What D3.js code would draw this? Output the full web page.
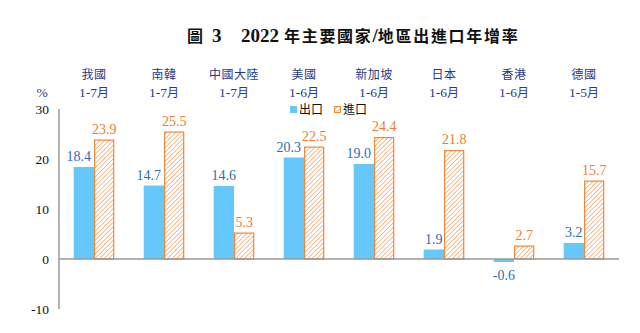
<!DOCTYPE html>
<html><head><meta charset="utf-8">
<script src="https://cdn.jsdelivr.net/npm/d3@7"></script>
<style>body{margin:0;background:#fff;}svg{display:block;}</style>
</head><body>
<svg id="c" width="640" height="333"></svg>
<script>
const categories = ["我國","南韓","中國大陸","美國","新加坡","日本","香港","德國"];
const periods = ["1-7月","1-7月","1-7月","1-6月","1-6月","1-6月","1-6月","1-5月"];
const exportsGrowth = [18.4,14.7,14.6,20.3,19.0,1.9,-0.6,3.2];
const importsGrowth = [23.9,25.5,5.3,22.5,24.4,21.8,2.7,15.7];
const seriesNames = ["出口","進口"];
const yTicks = [-10,0,10,20,30];

const svg = d3.select("#c");
const serif = "'Liberation Serif','Times New Roman',serif";
const cjk = "'Noto Sans CJK TC','Noto Sans CJK SC',sans-serif";
const blue = "#66c7fb", orange = "#f0883a", blueTxt = "#2a6fb5", orangeTxt = "#ee7d2d";
const hy = s => s.replace("\u2212","-");

const defs = svg.append("defs");
const pat = defs.append("pattern").attr("id","hatch").attr("patternUnits","userSpaceOnUse")
  .attr("width",3.2).attr("height",3.2).attr("patternTransform","rotate(-45)");
pat.append("rect").attr("width",3.2).attr("height",3.2).attr("fill","#fff");
pat.append("line").attr("x1",0).attr("y1",0).attr("x2",3.2).attr("y2",0).attr("stroke",orange).attr("stroke-width",1.1);

const y = d3.scaleLinear().domain([-10,30]).range([309,109]);
const x0 = d3.scaleBand().domain(categories).range([59,619]).paddingInner(0.42).paddingOuter(0.21);
const x1 = d3.scaleBand().domain(seriesNames).range([0,x0.bandwidth()]);

// title
const tg = svg.append("g").attr("font-weight","bold").attr("fill","#111");
tg.append("text").attr("x",187).attr("y",42).attr("font-family",cjk).attr("font-size",16).text("圖");
tg.append("text").attr("x",212).attr("y",42).attr("font-family",serif).attr("font-size",19).text("3");
tg.append("text").attr("x",241).attr("y",42).attr("font-family",serif).attr("font-size",19).text("2022");
const t2 = tg.append("text").attr("x",284).attr("y",42).attr("font-size",16).attr("letter-spacing",1.7);
t2.append("tspan").attr("font-family",cjk).text("年主要國家");
t2.append("tspan").attr("font-family",serif).attr("font-size",19).attr("letter-spacing",0).text("/");
t2.append("tspan").attr("font-family",cjk).text("地區出進口年增率");

// category headers
const hdr = svg.append("g");
categories.forEach((c,i)=>{
  const cx = x0(c)+x0.bandwidth()/2;
  hdr.append("text").attr("x",cx).attr("y",79).attr("text-anchor","middle")
    .attr("font-family",cjk).attr("font-size",12).attr("letter-spacing",0.5).attr("fill","#1f3a8a").text(c);
  const t = hdr.append("text").attr("x",cx).attr("y",97).attr("text-anchor","middle")
    .attr("font-size",13.5).attr("fill","#1f3a8a");
  const m = periods[i].match(/^([0-9\-]+)(.*)$/);
  t.append("tspan").attr("font-family",serif).text(m[1]);
  t.append("tspan").attr("font-family",cjk).attr("font-size",12).text(m[2]);
});
svg.append("text").attr("x",42).attr("y",97).attr("text-anchor","middle")
  .attr("font-family",serif).attr("font-size",13.5).attr("fill","#1f3a8a").text("%");

// y axis
const yAxis = d3.axisLeft(y).tickValues(yTicks).tickSize(0).tickPadding(10).tickFormat(d => String(d));
const ga = svg.append("g").attr("transform","translate(59,0)").call(yAxis);
ga.select(".domain").attr("stroke","#999").attr("stroke-width",1.5).attr("d","M0,109V309");
ga.selectAll("text").attr("font-family",serif).attr("font-size",13.5).attr("fill","#111");

// bars
const g = svg.append("g");
categories.forEach((c,i)=>{
  const vals = [exportsGrowth[i], importsGrowth[i]];
  vals.forEach((v,j)=>{
    const xx = x0(c)+x1(seriesNames[j]);
    const top = y(Math.max(0,v)), bot = y(Math.min(0,v));
    if(j===0){
      g.append("rect").attr("x",xx).attr("y",top).attr("width",x1.bandwidth()).attr("height",bot-top).attr("fill",blue);
    } else {
      g.append("rect").attr("x",xx+0.6).attr("y",top+0.6).attr("width",x1.bandwidth()-1.2).attr("height",bot-top-0.6)
        .attr("fill","url(#hatch)").attr("stroke",orange).attr("stroke-width",1.2);
    }
    const ly = v>=0 ? top-6 : bot+18;
    const shift = (j===0 && v>10 && vals[1]>v) ? -5 : 0;
    const lx = xx+x1.bandwidth()/2 + shift;
    g.append("text").attr("x",lx).attr("y",ly).attr("text-anchor","middle")
      .attr("font-family",serif).attr("font-size",14).attr("fill",j===0?blueTxt:orangeTxt).text(hy(d3.format(".1f")(v)));
  });
});

// zero line
svg.append("line").attr("x1",59).attr("x2",619).attr("y1",y(0)).attr("y2",y(0)).attr("stroke","#999").attr("stroke-width",1.5);

// legend
const lg = svg.append("g");
lg.append("rect").attr("x",290).attr("y",106).attr("width",7).attr("height",7).attr("fill",blue);
lg.append("text").attr("x",299).attr("y",114).attr("font-family",cjk).attr("font-size",12).attr("fill","#111").text(seriesNames[0]);
lg.append("rect").attr("x",334.5).attr("y",106.5).attr("width",6).attr("height",6).attr("fill","url(#hatch)").attr("stroke",orange).attr("stroke-width",1);
lg.append("text").attr("x",343).attr("y",114).attr("font-family",cjk).attr("font-size",12).attr("fill","#111").text(seriesNames[1]);
</script>
</body></html>
